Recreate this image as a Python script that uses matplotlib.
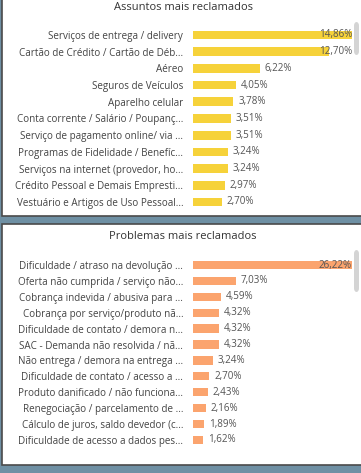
import matplotlib.pyplot as plt
from matplotlib.patches import Rectangle, FancyBboxPatch

# data
assuntos = ['Serviços de entrega / delivery', 'Cartão de Crédito / Cartão de Déb...',
            'Aéreo', 'Seguros de Veículos', 'Aparelho celular',
            'Conta corrente / Salário / Poupanç...', 'Serviço de pagamento online/ via ...',
            'Programas de Fidelidade / Benefíc...', 'Serviços na internet (provedor, ho...',
            'Crédito Pessoal e Demais Empresti...', 'Vestuário e Artigos de Uso Pessoal...']
assuntos_pct = [14.86, 12.70, 6.22, 4.05, 3.78, 3.51, 3.51, 3.24, 3.24, 2.97, 2.70]

problemas = ['Dificuldade / atraso na devolução ...', 'Oferta não cumprida / serviço não...',
             'Cobrança indevida / abusiva para ...', 'Cobrança por serviço/produto nã...',
             'Dificuldade de contato / demora n...', 'SAC - Demanda não resolvida / nã...',
             'Não entrega / demora na entrega ...', 'Dificuldade de contato / acesso a ...',
             'Produto danificado / não funciona...', 'Renegociação / parcelamento de ...',
             'Cálculo de juros, saldo devedor (c...', 'Dificuldade de acesso a dados pes...']
problemas_pct = [26.22, 7.03, 4.59, 4.32, 4.32, 4.32, 3.24, 2.70, 2.43, 2.16, 1.89, 1.62]

W, H = 361, 473
plt.rcParams['font.family'] = ['Open Sans', 'DejaVu Sans']
fig = plt.figure(figsize=(W / 100, H / 100), dpi=100)
fig.patch.set_facecolor('#6f90a4')


def fx(px):
    return px / W


def fy(py):
    return 1 - py / H


def panel(top, bottom):
    fig.patches.append(Rectangle((fx(2), fy(bottom)), fx(W + 5), (bottom - top) / H,
                                 transform=fig.transFigure, facecolor='white',
                                 edgecolor='#4a4a4a', linewidth=1.2, zorder=-2))


def scrollbar(top, bottom):
    fig.patches.append(FancyBboxPatch((fx(354), fy(bottom)), fx(5), (bottom - top) / H,
                                      boxstyle='round,pad=0,rounding_size=0.008',
                                      transform=fig.transFigure, facecolor='#d4d4d4',
                                      edgecolor='none', zorder=-1))


def bar_chart(cats, vals, color, row0, row_step, title, title_y):
    n = len(cats)
    top = row0 - row_step / 2
    bottom = row0 + row_step * (n - 0.5)
    ax = fig.add_axes([fx(193), fy(bottom), fx(352 - 193), (bottom - top) / H])
    ax.barh(range(n), vals, height=0.52, color=color)
    ax.set_xlim(0, max(vals))
    ax.set_ylim(n - 0.5, -0.5)
    ax.set_yticks(range(n))
    ax.set_yticklabels(cats, fontsize=7.1, color='#444444')
    ax.tick_params(axis='y', length=0, pad=7)
    ax.set_xticks([])
    for s in ax.spines.values():
        s.set_visible(False)
    ax.patch.set_alpha(0)
    for i, v in enumerate(vals):
        lab = f'{v:.2f}%'.replace('.', ',')
        if v > 0.8 * max(vals):
            ax.text(max(vals), i, lab, ha='right', va='center', fontsize=7.1, color='#555555')
        else:
            ax.text(v + max(vals) * 0.03, i, lab, ha='left', va='center', fontsize=7.1,
                    color='#555555')
    fig.text(fx(183), fy(title_y), title, ha='center', va='center', fontsize=8.0,
             color='#333333')


panel(-5, 216)
panel(224, 465)
scrollbar(22, 55)
scrollbar(250, 292)

bar_chart(assuntos, assuntos_pct, '#f6d23a', 35, 16.7, 'Assuntos mais reclamados', 7)
bar_chart(problemas, problemas_pct, '#fba46e', 265, 15.9, 'Problemas mais reclamados', 236)

fig.savefig('out.png', dpi=100)
